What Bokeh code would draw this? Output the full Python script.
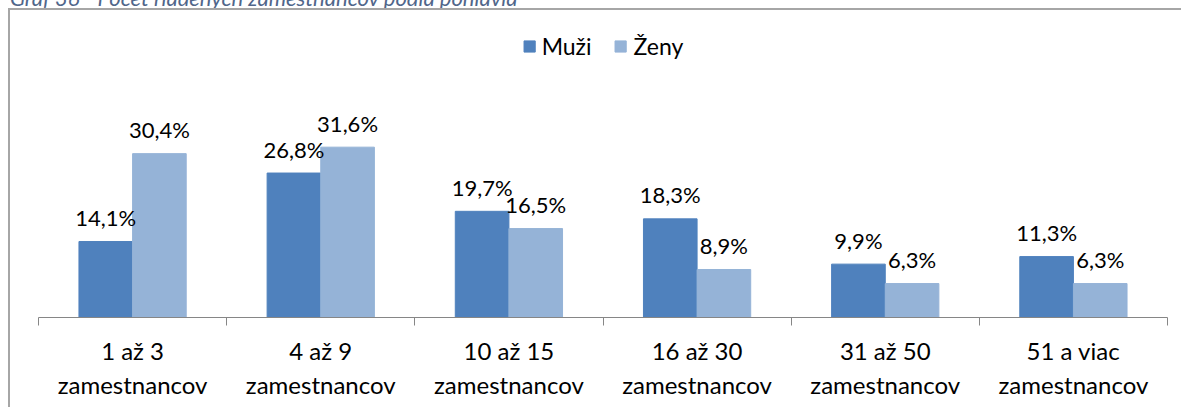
from bokeh.plotting import figure
from bokeh.models import (ColumnDataSource, Range1d, LinearAxis, FixedTicker, Legend, LegendItem, Div)
from bokeh.layouts import column
from bokeh.transform import dodge
from bokeh.core.properties import value
from bokeh.embed import file_html
from bokeh.resources import INLINE

caption = "Graf 36 - Počet riadených zamestnancov podľa pohlavia"
categories = ["1 až 3\nzamestnancov", "4 až 9\nzamestnancov", "10 až 15\nzamestnancov",
              "16 až 30\nzamestnancov", "31 až 50\nzamestnancov", "51 a viac\nzamestnancov"]
muzi = [14.1, 26.8, 19.7, 18.3, 9.9, 11.3]
zeny = [30.4, 31.6, 16.5, 8.9, 6.3, 6.3]
series_names = ["Muži", "Ženy"]

def fmt(v):
    return ("%.1f%%" % v).replace(".", ",")

n = len(categories)
centers = [i + 0.5 for i in range(n)]
src = ColumnDataSource(dict(xc=centers, muzi=muzi, zeny=zeny,
                            muzi_lbl=[fmt(v) for v in muzi],
                            zeny_lbl=[fmt(v) for v in zeny]))

FONT = "Lato"
C_M = "#4F81BD"
C_Z = "#95B3D7"

p = figure(x_range=Range1d(0, n), y_range=Range1d(0, 55.1),
           width=1173, height=399, output_backend="svg", toolbar_location=None,
           x_axis_location=None, y_axis_location=None,
           min_border_left=28, min_border_right=16, min_border_top=10, min_border_bottom=92)
p.margin = (0, 0, 0, 8)
p.styles = {"border-top": "2px solid #a6a6a6", "border-left": "2px solid #a6a6a6"}
p.outline_line_color = None
p.xgrid.visible = False
p.ygrid.visible = False

bounds = list(range(n + 1))
tick_axis = LinearAxis(ticker=FixedTicker(ticks=bounds),
                       major_label_overrides={b: "" for b in bounds},
                       axis_line_color="#868686", major_tick_line_color="#868686",
                       major_tick_out=8, major_tick_in=0, minor_tick_line_color=None,
                       major_label_text_font_size="1px", major_label_standoff=0)
p.add_layout(tick_axis, "below")

label_axis = LinearAxis(ticker=FixedTicker(ticks=centers),
                        major_label_overrides={c: lab for c, lab in zip(centers, categories)},
                        axis_line_color=None, major_tick_line_color=None, minor_tick_line_color=None,
                        major_label_text_font=FONT, major_label_text_font_size="24px",
                        major_label_text_color="#000000", major_label_standoff=4)
p.add_layout(label_axis, "below")

w = 0.285
r1 = p.vbar(x=dodge("xc", -w / 2), top="muzi", width=w, source=src,
            fill_color=C_M, line_color=C_M)
r2 = p.vbar(x=dodge("xc", w / 2), top="zeny", width=w, source=src,
            fill_color=C_Z, line_color=C_Z)

p.text(x=dodge("xc", -w / 2), y="muzi", text="muzi_lbl", source=src,
       y_offset=-24, text_align="center", text_baseline="middle",
       text_font=value(FONT), text_font_size="22px", text_color="#000000")
p.text(x=dodge("xc", w / 2), y="zeny", text="zeny_lbl", source=src,
       y_offset=-24, text_align="center", text_baseline="middle",
       text_font=value(FONT), text_font_size="22px", text_color="#000000")

legend = Legend(items=[LegendItem(label=series_names[0], renderers=[r1]),
                       LegendItem(label=series_names[1], renderers=[r2])],
                location="top_center", orientation="horizontal",
                label_text_font=FONT, label_text_font_size="23px", label_text_color="#000000",
                glyph_width=14, glyph_height=14, label_standoff=6, spacing=22,
                padding=4, margin=12, border_line_color=None, background_fill_alpha=0)
p.add_layout(legend, "center")

cap = Div(text='<span style="position:relative; top:-13px; white-space:nowrap; '
               'font-family:Lato; font-style:italic; font-size:22px; line-height:22px; '
               'color:#50668a;">' + caption + '</span>',
          width=1173, height=8, margin=(0, 0, 0, 10),
          styles={"overflow": "hidden", "padding": "0", "line-height": "22px"})

layout = column(cap, p, spacing=0)
open("out.html", "w").write(file_html(layout, INLINE))
